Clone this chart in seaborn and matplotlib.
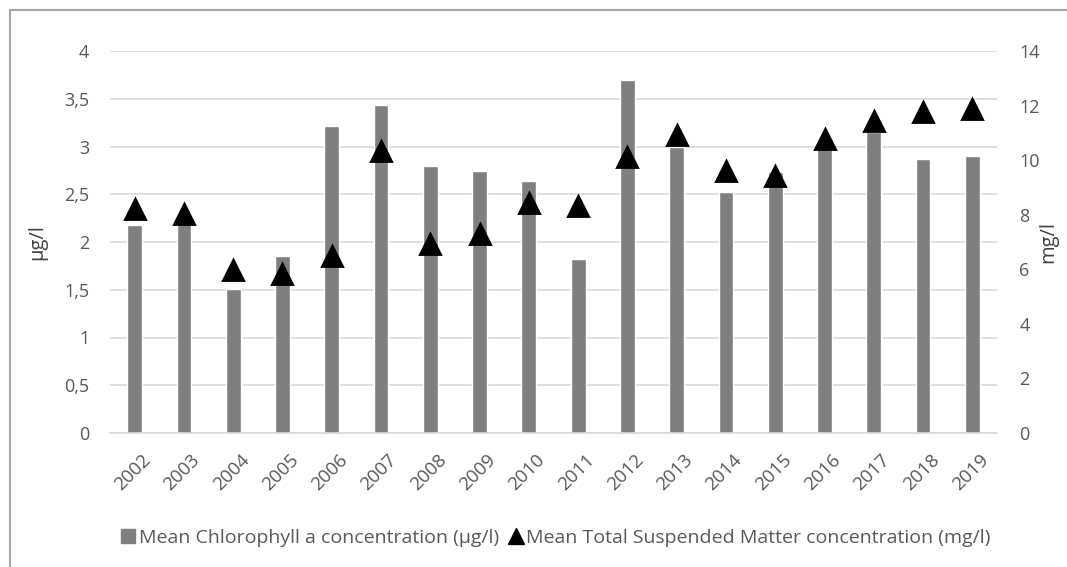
import numpy as np
import pandas as pd
import matplotlib
matplotlib.use("Agg")
import matplotlib.pyplot as plt
import matplotlib.transforms as mtrans
import seaborn as sns
from matplotlib.lines import Line2D
from matplotlib.patches import Rectangle

years = ["2002", "2003", "2004", "2005", "2006", "2007", "2008", "2009", "2010",
         "2011", "2012", "2013", "2014", "2015", "2016", "2017", "2018", "2019"]
chl = [2.18, 2.22, 1.51, 1.85, 3.21, 3.43, 2.80, 2.74, 2.64,
       1.82, 3.70, 2.99, 2.52, 2.73, 2.98, 3.15, 2.87, 2.90]
tsm = [8.22, 8.04, 5.96, 5.81, 6.49, 10.33, 6.91, 7.28, 8.43,
       8.32, 10.13, 10.91, 9.61, 9.43, 10.76, 11.45, 11.75, 11.87]

left_ticks = [0, 0.5, 1, 1.5, 2, 2.5, 3, 3.5, 4]
right_ticks = [0, 2, 4, 6, 8, 10, 12, 14]

chl_label = "Mean Chlorophyll a concentration (µg/l)"
tsm_label = "Mean Total Suspended Matter concentration (mg/l)"

df = pd.DataFrame({"year": years, "chl": chl, "tsm": tsm})

sns.set_style("white")
plt.rcParams["font.family"] = ["Open Sans", "DejaVu Sans"]

text_col = "#595959"
grid_col = "#d9d9d9"
bar_col = "#7f7f7f"

fig = plt.figure(figsize=(10.67, 5.67), dpi=100)
ax = fig.add_axes([110 / 1067, 134 / 567, 887 / 1067, 382 / 567])

sns.barplot(data=df, x="year", y="chl", color=bar_col, width=0.30,
            saturation=1, ax=ax, zorder=2)
ax.set_ylim(0, 4)
ax.set_yticks(left_ticks)
ax.set_yticklabels([f"{t:g}".replace(".", ",") for t in left_ticks])
ax.yaxis.grid(True, color=grid_col, linewidth=1.2, zorder=0)
ax.set_axisbelow(True)
for s in ["top", "right", "left"]:
    ax.spines[s].set_visible(False)
ax.spines["bottom"].set_color(grid_col)
ax.spines["bottom"].set_linewidth(1.2)
ax.tick_params(axis="both", length=0, colors=text_col, labelsize=13)
ax.tick_params(axis="y", pad=15)
ax.tick_params(axis="x", labelsize=13.5, pad=13)
ax.set_xlabel("")
ax.set_ylabel("µg/l", fontsize=14.5, color="#404040", labelpad=12)
shift = mtrans.ScaledTranslation(7 / 100, 0, fig.dpi_scale_trans)
for lab in ax.get_xticklabels():
    lab.set_rotation(45)
    lab.set_ha("right")
    lab.set_rotation_mode("anchor")
    lab.set_transform(lab.get_transform() + shift)

ax2 = ax.twinx()
sns.pointplot(data=df, x="year", y="tsm", color="black", markers="^",
              linestyle="none", markersize=14, ax=ax2, zorder=3)
ax2.set_ylim(0, 14)
ax2.set_yticks(right_ticks)
for s in ["top", "right", "left", "bottom"]:
    ax2.spines[s].set_visible(False)
ax2.tick_params(axis="y", length=0, colors=text_col, labelsize=13, pad=16)
ax2.set_ylabel("mg/l", fontsize=14.5, color="#404040", labelpad=-1)
ax2.set_xlim(ax.get_xlim())

handles = [
    Line2D([], [], marker="s", color=bar_col, linestyle="none", markersize=10),
    Line2D([], [], marker="^", color="black", linestyle="none", markersize=11),
]
leg = fig.legend(handles, [chl_label, tsm_label], loc="center",
                 bbox_to_anchor=(555 / 1067, 1 - 538 / 567), ncol=2,
                 frameon=False, fontsize=14, handletextpad=0.1,
                 columnspacing=0.4, handlelength=0.9, borderpad=0)
for t in leg.get_texts():
    t.set_color(text_col)

fig.patches.append(Rectangle((10 / 1067, -0.1), 1.2, (567 - 10) / 567 + 0.1,
                             transform=fig.transFigure, fill=False,
                             edgecolor="#a6a6a6", linewidth=1.5))

fig.savefig("out.png", dpi=100)
